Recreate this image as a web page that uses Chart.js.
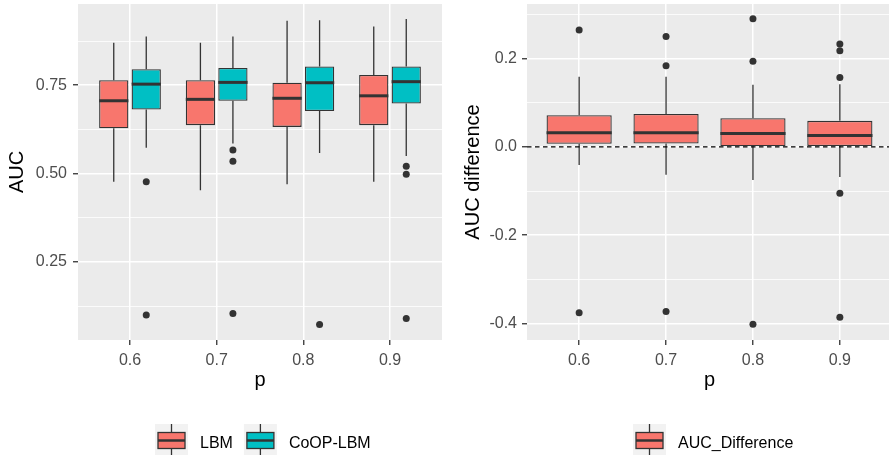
<!DOCTYPE html>
<html>
<head>
<meta charset="utf-8">
<script src="https://cdn.jsdelivr.net/npm/chart.js@4.4.1/dist/chart.umd.min.js"></script>
<style>
  body { margin: 0; background: #ffffff; overflow: hidden; }
  .frame { position: relative; width: 889px; height: 455px; overflow: hidden; }
  canvas { position: absolute; top: 0; }
</style>
</head>
<body>
<div class="frame">
  <canvas id="aucChart" width="450" height="455" style="left:0"></canvas>
  <canvas id="diffChart" width="446" height="455" style="left:450px"></canvas>
</div>
<script>
/* Categories (p) */
var pLabels = ['0.6', '0.7', '0.8', '0.9'];

/* LBM AUC boxplot stats */
var lbmMin = [0.477, 0.453, 0.470, 0.477];
var lbmQ1 = [0.628, 0.637, 0.632, 0.637];
var lbmMed = [0.706, 0.710, 0.713, 0.720];
var lbmQ3 = [0.764, 0.764, 0.757, 0.779];
var lbmMax = [0.870, 0.870, 0.932, 0.916];
var lbmOut = [[], [], [], []];

/* CoOP-LBM AUC boxplot stats */
var coopMin = [0.573, 0.585, 0.558, 0.550];
var coopQ1 = [0.681, 0.706, 0.677, 0.698];
var coopMed = [0.753, 0.758, 0.757, 0.760];
var coopQ3 = [0.795, 0.799, 0.803, 0.803];
var coopMax = [0.888, 0.888, 0.934, 0.937];
var coopOut = [[0.477, 0.100], [0.567, 0.535, 0.104], [0.073], [0.521, 0.498, 0.090]];

/* AUC difference boxplot stats */
var diffMin = [-0.041, -0.063, -0.075, -0.068];
var diffQ1 = [0.007, 0.0075, 0.0015, 0.002];
var diffMed = [0.032, 0.032, 0.030, 0.026];
var diffQ3 = [0.0715, 0.0745, 0.065, 0.059];
var diffMax = [0.159, 0.159, 0.141, 0.142];
var diffOut = [[0.265, -0.376], [0.250, 0.184, -0.373], [0.290, 0.194, -0.402], [0.233, 0.218, 0.157, -0.105, -0.386]];

/* Axis ticks (empty label = minor grid line) */
var aucTickValues = [0.125, 0.25, 0.375, 0.5, 0.625, 0.75, 0.875];
var aucTickLabels = ['', '0.25', '', '0.50', '', '0.75', ''];
var diffTickValues = [-0.4, -0.3, -0.2, -0.1, 0, 0.1, 0.2, 0.3];
var diffTickLabels = ['-0.4', '', '-0.2', '', '0.0', '', '0.2', ''];

/* Colors */
var red_color = '#F8766D';
var teal_color = '#00BFC4';
var line_color = '#333333';
var panel_color = '#EBEBEB';

Chart.defaults.font.family = '"Liberation Sans", Arial, sans-serif';

/* Build floating bar data (box from q1 to q3) */
function boxData(q1, q3) {
    return q1.map(function(v, i) {
        return { x: i + 1, y: [v, q3[i]] };
    });
}

/* Build outlier points, shifted to the dodged box centre */
function outlierData(out, shift) {
    var pts = [];
    out.forEach(function(list, i) {
        list.forEach(function(v) {
            pts.push({ x: i + 1 + shift, y: v });
        });
    });
    return pts;
}

/* Grey panel background */
var panelPlugin = {
    id: 'panel',
    beforeDraw: function(chart) {
        var a = chart.chartArea;
        var ctx = chart.ctx;
        ctx.save();
        ctx.fillStyle = panel_color;
        ctx.fillRect(a.left, a.top, a.right - a.left, a.bottom - a.top);
        ctx.restore();
    }
};

/* Whiskers, medians and zero line */
var boxPlugin = {
    id: 'boxParts',
    beforeDatasetsDraw: function(chart) {
        var ctx = chart.ctx;
        var y = chart.scales.y;
        ctx.save();
        ctx.strokeStyle = line_color;
        ctx.lineWidth = 1.3;
        chart.data.datasets.forEach(function(ds, i) {
            if (!ds.stats) return;
            chart.getDatasetMeta(i).data.forEach(function(bar, j) {
                ctx.beginPath();
                ctx.moveTo(bar.x, y.getPixelForValue(ds.data[j].y[1]));
                ctx.lineTo(bar.x, y.getPixelForValue(ds.stats.max[j]));
                ctx.moveTo(bar.x, y.getPixelForValue(ds.data[j].y[0]));
                ctx.lineTo(bar.x, y.getPixelForValue(ds.stats.min[j]));
                ctx.stroke();
            });
        });
        ctx.restore();
    },
    afterDatasetsDraw: function(chart, args, opts) {
        var ctx = chart.ctx;
        var y = chart.scales.y;
        var a = chart.chartArea;
        ctx.save();
        ctx.strokeStyle = line_color;
        ctx.lineWidth = 3;
        chart.data.datasets.forEach(function(ds, i) {
            if (!ds.stats) return;
            chart.getDatasetMeta(i).data.forEach(function(bar, j) {
                var py = y.getPixelForValue(ds.stats.med[j]);
                ctx.beginPath();
                ctx.moveTo(bar.x - bar.width / 2, py);
                ctx.lineTo(bar.x + bar.width / 2, py);
                ctx.stroke();
            });
        });
        // Dashed reference line at zero
        if (opts.zeroLine) {
            var zy = y.getPixelForValue(0);
            ctx.strokeStyle = '#000000';
            ctx.lineWidth = 1.2;
            ctx.setLineDash([4.5, 3.5]);
            ctx.beginPath();
            ctx.moveTo(a.left, zy);
            ctx.lineTo(a.right, zy);
            ctx.stroke();
        }
        ctx.restore();
    }
};

/* ggplot-like legend with boxplot keys */
var legendPlugin = {
    id: 'boxLegend',
    afterDraw: function(chart, args, opts) {
        var ctx = chart.ctx;
        var x = opts.x;
        var keyTop = 424;
        var key = 33;
        ctx.save();
        ctx.font = '16px "Liberation Sans", Arial, sans-serif';
        ctx.textBaseline = 'alphabetic';
        ctx.textAlign = 'left';
        opts.items.forEach(function(item) {
            var cx = x + key / 2;
            var cy = keyTop + 16.5;
            ctx.fillStyle = '#F2F2F2';
            ctx.fillRect(x, keyTop, key, key);
            ctx.strokeStyle = line_color;
            ctx.lineWidth = 1.3;
            ctx.beginPath();
            ctx.moveTo(cx, keyTop);
            ctx.lineTo(cx, keyTop + key);
            ctx.stroke();
            ctx.fillStyle = item.color;
            ctx.fillRect(x + 3, cy - 8, key - 6, 16);
            ctx.strokeRect(x + 3, cy - 8, key - 6, 16);
            ctx.lineWidth = 2.5;
            ctx.beginPath();
            ctx.moveTo(x + 3, cy);
            ctx.lineTo(x + key - 3, cy);
            ctx.stroke();
            ctx.fillStyle = '#000000';
            ctx.fillText(item.label, x + key + 12, 448.3);
            x += key + 12 + ctx.measureText(item.label).width + 11;
        });
        ctx.restore();
    }
};

/* Shared axis builders */
function xAxis() {
    return {
        type: 'linear',
        min: 0.4,
        max: 4.6,
        bounds: 'data',
        offset: false,
        afterBuildTicks: function(scale) {
            scale.ticks = pLabels.map(function(l, i) { return { value: i + 1 }; });
        },
        afterFit: function(scale) {
            scale.height = 52;
            scale.paddingLeft = 0;
            scale.paddingRight = 0;
        },
        ticks: {
            autoSkip: false,
            maxRotation: 0,
            padding: 6,
            color: '#4D4D4D',
            font: { size: 16 },
            callback: function(value, index) { return pLabels[index]; }
        },
        grid: {
            offset: false,
            color: '#FFFFFF',
            lineWidth: 1.5,
            tickLength: 5,
            tickColor: line_color,
            tickWidth: 1.3
        },
        border: { display: false },
        title: {
            display: true,
            text: 'p',
            color: '#000000',
            font: { size: 20 },
            padding: { top: 0, bottom: 0 }
        }
    };
}

function yAxis(values, labels, min, max, width, title, titlePad, tickPad) {
    return {
        type: 'linear',
        min: min,
        max: max,
        afterBuildTicks: function(scale) {
            scale.ticks = values.map(function(v) { return { value: v }; });
        },
        afterFit: function(scale) {
            scale.width = width;
            scale.paddingTop = 0;
            scale.paddingBottom = 0;
        },
        ticks: {
            autoSkip: false,
            padding: tickPad,
            color: '#4D4D4D',
            font: { size: 16 },
            callback: function(value, index) { return labels[index]; }
        },
        grid: {
            color: '#FFFFFF',
            lineWidth: function(c) { return labels[c.index] === '' ? 0.8 : 1.5; },
            tickLength: 5,
            tickColor: function(c) { return labels[c.index] === '' ? 'rgba(0,0,0,0)' : line_color; },
            tickWidth: 1.3
        },
        border: { display: false },
        title: {
            display: true,
            text: title,
            color: '#000000',
            font: { size: 20 },
            padding: { top: titlePad, bottom: 0 }
        }
    };
}

/* Left chart: AUC by method */
var dodge = 0.75 / 4;
var aucChart = new Chart(document.getElementById('aucChart'), {
    data: {
        datasets: [{
            type: 'bar',
            label: 'LBM',
            data: boxData(lbmQ1, lbmQ3),
            stats: { min: lbmMin, med: lbmMed, max: lbmMax },
            backgroundColor: red_color,
            borderColor: line_color,
            borderWidth: 1.3,
            borderSkipped: false,
            categoryPercentage: 0.75,
            barPercentage: 0.9,
            order: 1
        }, {
            type: 'bar',
            label: 'CoOP-LBM',
            data: boxData(coopQ1, coopQ3),
            stats: { min: coopMin, med: coopMed, max: coopMax },
            backgroundColor: teal_color,
            borderColor: line_color,
            borderWidth: 1.3,
            borderSkipped: false,
            categoryPercentage: 0.75,
            barPercentage: 0.9,
            order: 1
        }, {
            type: 'scatter',
            label: 'LBM outliers',
            data: outlierData(lbmOut, -dodge),
            pointRadius: 3.5,
            pointBackgroundColor: line_color,
            pointBorderWidth: 0,
            order: 0
        }, {
            type: 'scatter',
            label: 'CoOP-LBM outliers',
            data: outlierData(coopOut, dodge),
            pointRadius: 3.5,
            pointBackgroundColor: line_color,
            pointBorderWidth: 0,
            order: 0
        }]
    },
    options: {
        responsive: false,
        devicePixelRatio: 1,
        animation: false,
        events: [],
        layout: { padding: { top: 2.5, right: 8, bottom: 63, left: 0 } },
        scales: {
            x: xAxis(),
            y: yAxis(aucTickValues, aucTickLabels, 0.0293, 0.9797, 78, 'AUC', 5.5, 6)
        },
        plugins: {
            legend: { display: false },
            tooltip: { enabled: false },
            boxParts: { zeroLine: false },
            boxLegend: {
                x: 155,
                items: [{ label: 'LBM', color: red_color }, { label: 'CoOP-LBM', color: teal_color }]
            }
        }
    },
    plugins: [panelPlugin, boxPlugin, legendPlugin]
});

/* Right chart: AUC difference */
var diffChart = new Chart(document.getElementById('diffChart'), {
    data: {
        datasets: [{
            type: 'bar',
            label: 'AUC_Difference',
            data: boxData(diffQ1, diffQ3),
            stats: { min: diffMin, med: diffMed, max: diffMax },
            backgroundColor: red_color,
            borderColor: line_color,
            borderWidth: 1.3,
            borderSkipped: false,
            categoryPercentage: 0.75,
            barPercentage: 1,
            order: 1
        }, {
            type: 'scatter',
            label: 'AUC_Difference outliers',
            data: outlierData(diffOut, 0),
            pointRadius: 3.5,
            pointBackgroundColor: line_color,
            pointBorderWidth: 0,
            order: 0
        }]
    },
    options: {
        responsive: false,
        devicePixelRatio: 1,
        animation: false,
        events: [],
        layout: { padding: { top: 2.5, right: 0, bottom: 63, left: 0 } },
        scales: {
            x: xAxis(),
            y: yAxis(diffTickValues, diffTickLabels, -0.4376, 0.3237, 77, 'AUC difference', 11.3, 5)
        },
        plugins: {
            legend: { display: false },
            tooltip: { enabled: false },
            boxParts: { zeroLine: true },
            boxLegend: {
                x: 183,
                items: [{ label: 'AUC_Difference', color: red_color }]
            }
        }
    },
    plugins: [panelPlugin, boxPlugin, legendPlugin]
});
</script>
</body>
</html>
